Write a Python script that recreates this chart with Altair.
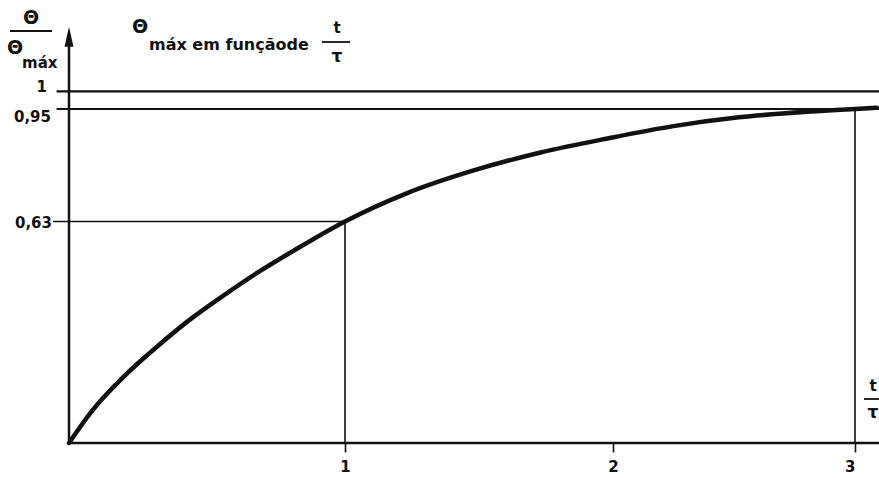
import altair as alt
import pandas as pd

# Heating curve: Θ/Θmáx as a function of t/τ
t_ratio = [0.0, 0.08, 0.20, 0.325, 0.445, 0.57, 0.69, 0.81, 1.0, 1.23, 1.48,
           1.73, 1.98, 2.25, 2.52, 2.80, 3.0, 3.09]
theta_ratio = [0.0, 0.088, 0.19, 0.278, 0.355, 0.425, 0.488, 0.545, 0.63, 0.71,
               0.775, 0.826, 0.866, 0.901, 0.926, 0.942, 0.95, 0.953]

# Reference levels on the vertical axis
level_values = [1.0, 0.95, 0.63]
level_labels = ["1", "0,95", "0,63"]
level_starts = [-0.045, -0.045, -0.058]
level_ends = [3.1, 3.1, 1.0]

# Marked instants t/τ and the level reached there
mark_t = [1, 3]
mark_theta = [0.63, 0.95]

# Horizontal axis ticks
tick_values = [1, 2, 3]

INK = "#111111"
FONT = "DejaVu Sans"
LEFT, TOP = 69, 21
W, H = 810, 422

x_scale = alt.Scale(domain=[0, 1, 2, 3], range=[0, 276, 544, 786], nice=False, zero=False)
y_scale = alt.Scale(domain=[0, 1.2], nice=False, zero=False)
x_axis = alt.Axis(values=tick_values, format="d", domain=False, grid=False, ticks=True,
                  tickSize=9, tickWidth=1.6, tickColor=INK, labelColor=INK,
                  labelFont=FONT, labelFontSize=15, labelFontWeight="bold",
                  labelPadding=7, title=None)


def X(field):
    return alt.X(field, type="quantitative", scale=x_scale, axis=x_axis)


def Y(field):
    return alt.Y(field, type="quantitative", scale=y_scale, axis=None)


one = pd.DataFrame({"k": [0]})

curve = alt.Chart(pd.DataFrame({"t": t_ratio, "theta": theta_ratio})).mark_line(
    color=INK, strokeWidth=4.5, interpolate="monotone", strokeCap="round"
).encode(x=X("t"), y=Y("theta"))

levels_df = pd.DataFrame({"level": level_values, "x0": level_starts, "x1": level_ends,
                          "w": [2.2, 2.0, 1.5]})
levels = alt.Chart(levels_df).mark_rule(color=INK).encode(
    x=X("x0"), x2="x1", y=Y("level"), strokeWidth=alt.StrokeWidth("w:Q", scale=None)
)

drops_df = pd.DataFrame({"t": mark_t, "base": [0, 0], "top": mark_theta})
drops = alt.Chart(drops_df).mark_rule(color=INK, strokeWidth=1.6).encode(
    x=X("t"), y=Y("base"), y2="top"
)

axes_df = pd.DataFrame({"x0": [0, 0], "x1": [3.1, 0], "y0": [0, 0], "y1": [0, 1.155]})
axes = alt.Chart(axes_df).mark_rule(color=INK, strokeWidth=2.5).encode(
    x=X("x0"), x2="x1", y=Y("y0"), y2="y1"
)

arrow = alt.Chart(pd.DataFrame({"x": [0], "y": [1.155]})).mark_point(
    shape="M0,-1L0.45,1L-0.45,1Z", size=400, filled=True, color=INK, opacity=1
).encode(x=X("x"), y=Y("y"))

label_layers = []
for value, text, right, dy in zip(level_values, level_labels, [47, 51, 52], [-4, 8, 2]):
    label_layers.append(
        alt.Chart(pd.DataFrame({"level": [value]})).mark_text(
            align="right", baseline="middle", dy=dy, font=FONT, fontSize=15,
            fontWeight="bold", color=INK
        ).encode(x=alt.value(right - LEFT), y=Y("level"), text=alt.value(text))
    )


def note(text, x, y, size=15, align="center"):
    return alt.Chart(one).mark_text(
        align=align, baseline="middle", font=FONT, fontSize=size,
        fontWeight="bold", color=INK
    ).encode(x=alt.value(x - LEFT), y=alt.value(y - TOP), text=alt.value(text))


def bar(x0, x1, y, width=2.0):
    return alt.Chart(one).mark_rule(color=INK, strokeWidth=width).encode(
        x=alt.value(x0 - LEFT), x2=alt.value(x1 - LEFT), y=alt.value(y - TOP)
    )


notes = [
    # vertical axis title Θ / Θmáx
    note("Θ", 31, 18, 19), bar(10, 52, 31),
    note("Θ", 15, 48, 19), note("máx", 22, 63, 15, "left"),
    # chart heading
    note("Θ", 140, 27, 19), note("máx em funçãode", 149, 45, 16, "left"),
    note("t", 337, 28, 15), bar(322, 350, 42, 1.8), note("τ", 337, 57, 17),
    # horizontal axis title t/τ
    note("t", 873, 386, 15), bar(864, 879, 399, 1.8), note("τ", 873, 413, 17),
]

chart = alt.layer(axes, arrow, levels, drops, curve, *label_layers, *notes).properties(
    width=W, height=H,
    autosize=alt.AutoSizeParams(type="none"),
    padding={"left": LEFT, "top": TOP, "right": 0, "bottom": 478 - TOP - H},
    background="white",
).configure_view(stroke=None)

chart.save("out.html", embed_options={"renderer": "svg", "actions": False})
